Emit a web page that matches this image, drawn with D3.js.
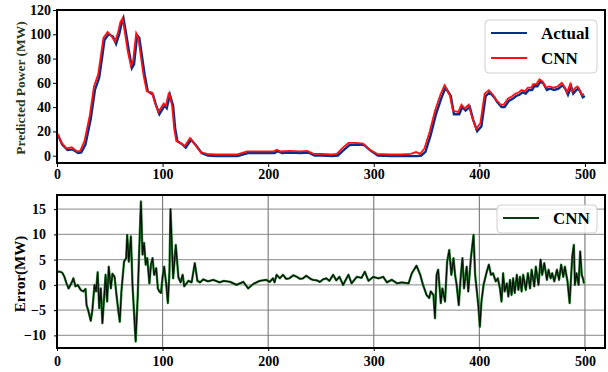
<!DOCTYPE html>
<html>
<head>
<meta charset="utf-8">
<script src="https://cdn.jsdelivr.net/npm/d3@7"></script>
<style>
    body { margin: 0; background: #fff; }
    .tick text { font-family: 'Liberation Serif', 'Times New Roman', serif; font-weight: bold; font-size: 14px; fill: #000; }
    .tick line { stroke: #000; }
</style>
</head>
<body>
<script>

// tick labels
var stepTicks = [0, 100, 200, 300, 400, 500];
var powerTicks = [0, 20, 40, 60, 80, 100, 120];
var errorTicks = [-10, -5, 0, 5, 10, 15];

// top chart: time step, actual power, CNN prediction (MW)
var powerSteps = [
    0, 4, 9, 14, 19, 22, 26, 31, 35, 39,
    42, 44, 48, 52, 55, 58, 60, 62, 64, 67,
    70, 72, 75, 77, 80, 82, 85, 90, 93, 96,
    101, 103, 106, 109, 111, 113, 118, 121, 126, 131,
    136, 142, 150, 160, 170, 180, 185, 195, 205, 208,
    212, 220, 230, 237, 243, 250, 260, 265, 270, 276,
    283, 290, 296, 303, 315, 325, 335, 340, 344, 348,
    353, 358, 363, 367, 372, 375, 380, 383, 386, 390,
    393, 397, 401, 405, 409, 413, 416, 420, 423, 427,
    431, 434, 437, 440, 443, 446, 449, 451, 454, 457,
    460, 463, 466, 470, 474, 478, 481, 483, 486, 488,
    491, 493, 495, 497, 499];

var actualMW = [
    18, 10, 5.5, 6, 3, 3.5, 10, 31, 55, 65,
    83, 96, 101, 99, 93, 101, 109, 114, 104, 88,
    73, 76, 100, 98, 80, 68, 54, 51, 42, 35,
    42, 40, 51, 42, 23, 13, 10, 7.5, 14, 9,
    3, 1, 0.5, 0.5, 0.5, 3, 3, 3, 3, 4.5,
    3, 3.5, 3, 3.5, 1, 1, 0.5, 1, 5, 9.5,
    10, 9.5, 5, 1, 0.5, 0.5, 0.5, 0.5, 1, 4,
    18, 35, 48, 57, 50, 35, 35, 41, 38, 41,
    31, 21, 25, 50, 53, 49, 45, 41, 41, 46,
    48, 50, 51, 53, 52, 55, 55, 58, 58, 62,
    60, 55, 56, 55, 56, 59, 55, 51, 58, 52,
    55, 56, 53, 49, 50];

var cnnMW = [
    19, 11, 6, 7, 3.5, 4, 12, 33, 57, 67,
    85, 97, 102, 98, 94, 102, 110, 113, 103, 86,
    74, 78, 101, 97, 78, 66, 53, 52, 43, 36,
    43, 41, 52, 41, 22, 12, 10, 8, 14.5, 9,
    3, 1.5, 1, 1, 1, 3.5, 3.5, 3.5, 3.5, 5,
    3.5, 4, 3.5, 4, 1.5, 1.5, 1, 1.5, 6, 10.5,
    10.5, 10, 5, 1.5, 1, 1, 1.5, 3, 1.5, 6,
    20, 37, 50, 58, 50, 37, 36, 42, 39, 42,
    32, 22, 27, 51, 54, 50, 46, 42, 42, 47,
    49, 51, 52, 54, 53, 56, 56, 59, 59, 63,
    61, 56, 57, 56, 57, 60, 56, 52, 59, 53,
    56, 57, 54, 50, 51];

// bottom chart: time step, CNN error (MW)
var errorSteps = [
    0, 3, 5, 7, 9, 11, 14, 15.5, 17.5, 19.5,
    22.5, 25, 27, 28, 29.5, 32, 33.5, 35.5, 37, 38.5,
    40, 41.5, 43, 45, 46, 47.5, 49, 51, 52.5, 54.5,
    56.5, 58, 59.5, 61, 63.5, 65.5, 66.5, 68, 70, 71.5,
    74.5, 76.5, 77.5, 79.5, 81, 82.5, 84, 85.5, 87.5, 89,
    90.5, 92, 94, 95.5, 97, 98.5, 100, 101.5, 103.5, 105,
    106.5, 107.5, 110, 112.5, 115, 117, 119, 120.5, 124.5, 127.5,
    130.5, 133, 135.5, 138.5, 143, 148, 154, 158, 164, 170,
    176.5, 181, 186, 192, 198, 201.5, 204.5, 206, 208, 211,
    214, 217, 220, 224, 227, 230, 233, 236, 240, 242.5,
    246, 249, 252, 255, 258, 261.5, 264.5, 267.5, 271, 276,
    279, 284, 288.5, 291.5, 295, 299.5, 304.5, 309, 312.5, 317,
    322, 326.5, 333, 336, 340.5, 344, 346.5, 350, 352.5, 354,
    356.5, 358, 359.5, 361, 363.5, 365, 367.5, 369.5, 371.5, 373.5,
    375.5, 377, 378.5, 380.5, 382.5, 384, 385.5, 388, 389.5, 392,
    394.5, 396, 397.5, 399, 400.5, 402, 404, 407, 409, 411,
    413, 415.5, 417.5, 419.5, 421, 422.5, 424, 426, 427.5, 429,
    430.5, 432, 433.5, 435.5, 437, 438.5, 440, 441.5, 444, 446,
    448, 449.5, 452, 453.5, 456, 458, 459.5, 461.5, 464, 465.5,
    467.5, 469, 471, 473.5, 475.5, 477.5, 479.5, 481, 483.5, 485.5,
    487, 488, 489.5, 490.5, 492, 494, 495.5, 497, 498.5, 499];

var errorMW = [
    2.6, 2.6, 2.4, 1.6, 0.3, -0.7, 0.5, 1.3, -0.3, 0,
    -1, -1.3, -0.8, -4, -5, -7.1, -5, 0, -1.3, 2.5,
    -4.6, -0.7, -7.6, -1.3, 2, -3.3, 3.6, -0.7, 2.2, 1.6,
    -2.3, -5, -7.3, -1.3, 4.6, 5.3, 9.9, 4.6, 9.6, 0,
    -11.2, -2, 4.6, 16.5, 6, 8.3, 4, 5.3, 0.3, 4,
    5.3, 2, 3.3, -0.7, -1.3, -1.6, 1.6, 3.6, 0, -3.6,
    2.6, 15, 1.3, 7.9, 1.5, 0.5, 2, -0.3, 0.8, 0.5,
    4.3, 0.8, 0.5, 1.1, 0.7, 1, 0.5, 0.8, 0.6, 0,
    0.6, -0.7, 0.2, 0.8, 1, 0.6, 1.3, 0.5, 2, 1.3,
    2, 1.2, 1.3, 1.9, 1.6, 1.2, 1.3, 1.8, 1.2, 1,
    0.9, 0.6, 1.1, 1.3, 0.8, 2, 0.9, 1.6, 0, 2,
    0.3, 1.6, 1.4, 2.6, 0.8, 1.6, 1.3, 1.6, 0.5, 1,
    0.3, 0.5, 0.3, 2.3, 3.8, 2, 0.1, -2, -2.6, -1.3,
    -2, -6.6, 2, 3, -3.6, -0.7, -3.3, 4.6, 6.9, 2,
    5.3, 2, 0, -4, 2, 5.3, -0.7, 3.6, -1.3, 5.3,
    9.9, 2, -1, -4, -8.3, -3.3, 0, 2.6, 4, 2,
    2.3, 0.7, 1.3, -0.7, -3.3, 2.3, -1.3, 0.3, -2.3, 1,
    -2, 1.3, -1.6, 2, -1, 1.6, -1.3, 2, -1, 2.3,
    -0.7, 3, -0.3, 3.6, 0, 5, 2, 4.3, 1, 3,
    1.3, 2.3, 0.7, 3, 1, 4, 1.6, 3.6, 0.7, -3.6,
    2, 5.6, 7.9, 0, 2.3, 0, 6.6, 2, 1, 0.3];

var font = "'Liberation Serif', 'Times New Roman', serif";

var svg = d3.select('body').append('svg')
    .attr('width', 608)
    .attr('height', 372);

// shared x scale (both panels line up)
var x = d3.scaleLinear().domain([0, 519]).range([57, 605]);

function createPowerPlot() {

    var y = d3.scaleLinear().domain([-6, 120]).range([163, 10]);

    var line = d3.line()
        .x(function(d) { return x(d[0]); })
        .y(function(d) { return y(d[1]); });

    var actual = powerSteps.map(function(s, i) { return [s, actualMW[i]]; });
    var cnn = powerSteps.map(function(s, i) { return [s, cnnMW[i]]; });

    svg.append('path')
        .datum(actual)
        .attr('fill', 'none')
        .attr('stroke', '#0b2f86')
        .attr('stroke-width', 2.4)
        .attr('transform', 'translate(1,1)')
        .attr('d', line);

    svg.append('path')
        .datum(cnn)
        .attr('fill', 'none')
        .attr('stroke', '#ff1010')
        .attr('stroke-width', 1.8)
        .attr('d', line);

    svg.append('g')
        .attr('transform', 'translate(0,163)')
        .call(d3.axisBottom(x).tickValues(stepTicks).tickSize(4).tickPadding(2))
        .call(function(g) { g.select('.domain').remove(); });

    svg.append('g')
        .attr('transform', 'translate(57,0)')
        .call(d3.axisLeft(y).tickValues(powerTicks).tickSize(4).tickPadding(2))
        .call(function(g) { g.select('.domain').remove(); });

    svg.append('rect')
        .attr('x', 57).attr('y', 10)
        .attr('width', 548).attr('height', 153)
        .attr('fill', 'none')
        .attr('stroke', '#000')
        .attr('stroke-width', 2);

    svg.append('text')
        .attr('text-anchor', 'middle')
        .attr('transform', 'translate(25,88)rotate(-90)')
        .attr('font-family', font)
        .attr('font-weight', 'bold')
        .attr('font-size', '13.5px')
        .attr('fill', '#2a3a22')
        .text('Predicted Power (MW)');

    // legend
    var legend = svg.append('g');
    legend.append('rect')
        .attr('x', 485).attr('y', 20)
        .attr('width', 112).attr('height', 53)
        .attr('rx', 4)
        .attr('fill', '#fff')
        .attr('fill-opacity', 0.85)
        .attr('stroke', '#cfcfcf');

    var items = [['Actual', '#0b2f86', 33], ['CNN', '#ff1010', 58]];
    items.forEach(function(it) {
        legend.append('line')
            .attr('x1', 491).attr('x2', 527)
            .attr('y1', it[2]).attr('y2', it[2])
            .attr('stroke', it[1])
            .attr('stroke-width', 2);
        legend.append('text')
            .attr('x', 541).attr('y', it[2])
            .attr('dy', '.35em')
            .attr('font-family', font)
            .attr('font-weight', 'bold')
            .attr('font-size', '17px')
            .text(it[0]);
    });
}

function createErrorPlot() {

    var y = d3.scaleLinear().domain([-12.5, 17.8]).range([348, 195]);

    // grid
    svg.append('g')
        .selectAll('line')
        .data(errorTicks)
        .enter().append('line')
        .attr('x1', 57).attr('x2', 605)
        .attr('y1', function(d) { return y(d); })
        .attr('y2', function(d) { return y(d); })
        .attr('stroke', '#a0a0a0')
        .attr('stroke-width', 1.2);

    svg.append('g')
        .selectAll('line')
        .data(stepTicks.slice(1))
        .enter().append('line')
        .attr('x1', function(d) { return x(d); })
        .attr('x2', function(d) { return x(d); })
        .attr('y1', 195).attr('y2', 348)
        .attr('stroke', '#777')
        .attr('stroke-width', 1.1);

    var line = d3.line()
        .x(function(d) { return x(d[0]); })
        .y(function(d) { return y(d[1]); });

    var err = errorSteps.map(function(s, i) { return [s, errorMW[i]]; });

    svg.append('path')
        .datum(err)
        .attr('fill', 'none')
        .attr('stroke', '#2f8a3a')
        .attr('stroke-width', 2.4)
        .attr('stroke-linejoin', 'round')
        .attr('d', line);

    svg.append('path')
        .datum(err)
        .attr('fill', 'none')
        .attr('stroke', '#050f05')
        .attr('stroke-width', 1.2)
        .attr('stroke-linejoin', 'round')
        .attr('d', line);

    svg.append('g')
        .attr('transform', 'translate(0,348)')
        .call(d3.axisBottom(x).tickValues(stepTicks).tickSize(3).tickPadding(5))
        .call(function(g) { g.select('.domain').remove(); });

    svg.append('g')
        .attr('transform', 'translate(57,0)')
        .call(d3.axisLeft(y).tickValues(errorTicks).tickSize(3).tickPadding(8))
        .call(function(g) { g.select('.domain').remove(); });

    svg.append('rect')
        .attr('x', 57).attr('y', 195)
        .attr('width', 548).attr('height', 153)
        .attr('fill', 'none')
        .attr('stroke', '#000')
        .attr('stroke-width', 2);

    svg.append('text')
        .attr('text-anchor', 'middle')
        .attr('transform', 'translate(25,274)rotate(-90)')
        .attr('font-family', font)
        .attr('font-weight', 'bold')
        .attr('font-size', '15px')
        .text('Error(MW)');

    var legend = svg.append('g');
    legend.append('rect')
        .attr('x', 497).attr('y', 205)
        .attr('width', 100).attr('height', 28)
        .attr('rx', 4)
        .attr('fill', '#fff')
        .attr('fill-opacity', 0.85)
        .attr('stroke', '#cfcfcf');
    legend.append('line')
        .attr('x1', 503).attr('x2', 539)
        .attr('y1', 218).attr('y2', 218)
        .attr('stroke', '#0d3a16')
        .attr('stroke-width', 2);
    legend.append('text')
        .attr('x', 553).attr('y', 218)
        .attr('dy', '.35em')
        .attr('font-family', font)
        .attr('font-weight', 'bold')
        .attr('font-size', '17px')
        .text('CNN');
}

svg.append('rect').attr('width', 608).attr('height', 372).attr('fill', '#fff');
createPowerPlot();
createErrorPlot();

</script>
</body>
</html>
